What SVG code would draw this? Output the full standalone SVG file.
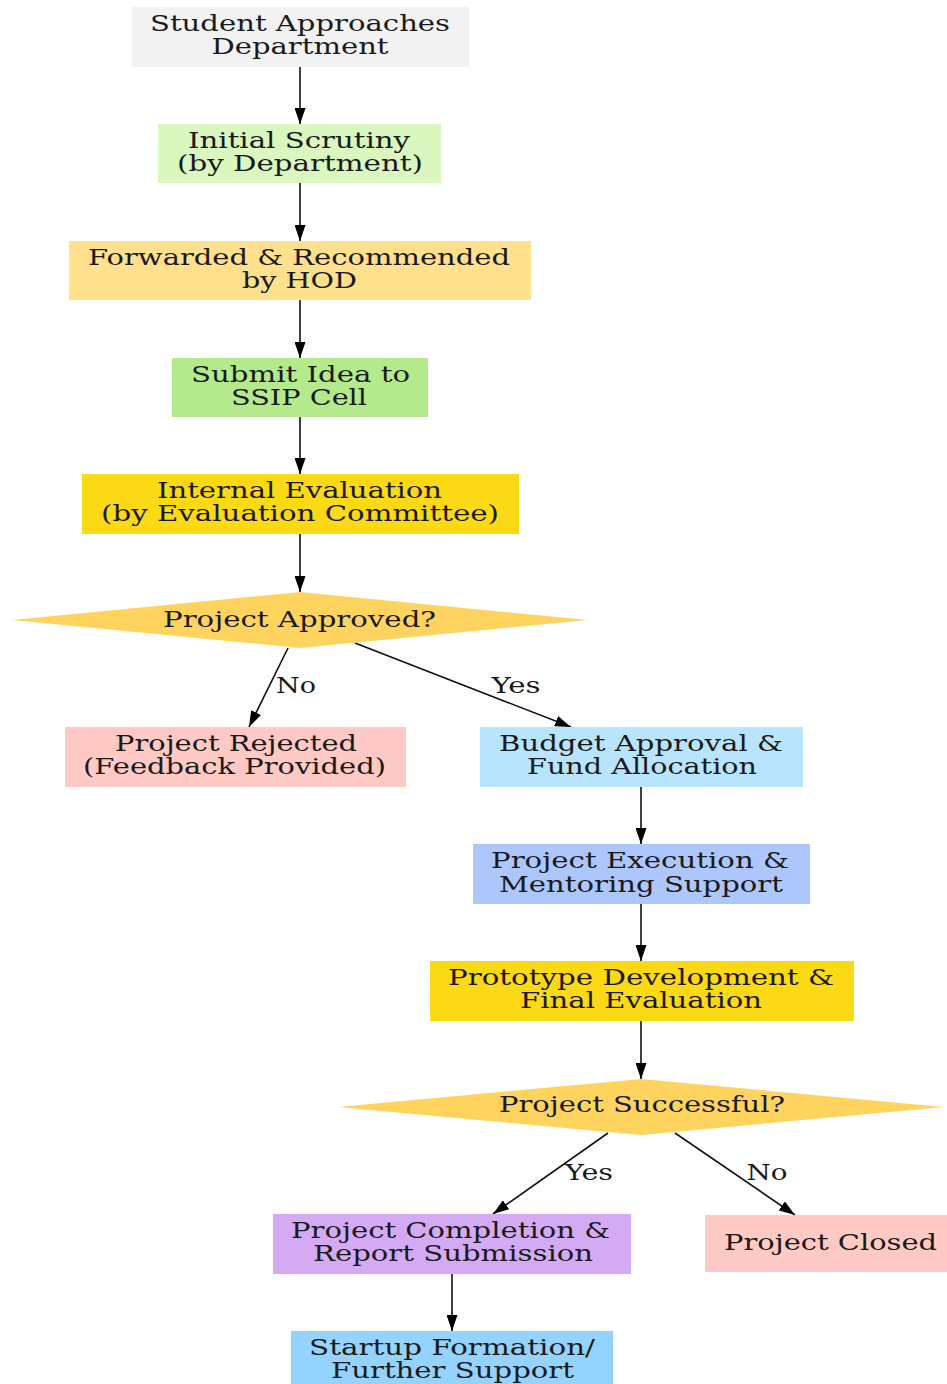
<svg xmlns="http://www.w3.org/2000/svg" width="947" height="1384" viewBox="0 0 947 1384">
<defs>
<style>
text{font-family:"DejaVu Serif","Liberation Serif",serif;font-size:23px;fill:#1a1a1a;text-anchor:middle}
.e{stroke:#111;stroke-width:1.6;fill:none;marker-end:url(#ah)}
</style>
<marker id="ah" viewBox="0 0 16 11" refX="16" refY="5.5" markerWidth="16" markerHeight="11" markerUnits="userSpaceOnUse" orient="auto">
<path d="M0,0L16,5.5L0,11z" fill="#000"/>
</marker>
</defs>
<rect width="947" height="1384" fill="#fff"/>
<g id="connectors">
<line class="e" x1="300" y1="67" x2="300" y2="124"/>
<line class="e" x1="300" y1="183" x2="300" y2="241"/>
<line class="e" x1="300" y1="300" x2="300" y2="358"/>
<line class="e" x1="300" y1="417" x2="300" y2="474"/>
<line class="e" x1="300" y1="534" x2="300" y2="592"/>
<line class="e" x1="288" y1="648" x2="249" y2="727"/>
<text x="296" y="693" textLength="40" lengthAdjust="spacingAndGlyphs">No</text>
<line class="e" x1="355" y1="643" x2="571" y2="727"/>
<text x="516" y="693" textLength="49" lengthAdjust="spacingAndGlyphs">Yes</text>
<line class="e" x1="641" y1="787" x2="641" y2="844"/>
<line class="e" x1="641" y1="904" x2="641" y2="961"/>
<line class="e" x1="641" y1="1021" x2="641" y2="1079"/>
<line class="e" x1="608" y1="1133" x2="493" y2="1214"/>
<text x="589" y="1180" textLength="48" lengthAdjust="spacingAndGlyphs">Yes</text>
<line class="e" x1="675" y1="1133" x2="795" y2="1215"/>
<text x="767" y="1180" textLength="41" lengthAdjust="spacingAndGlyphs">No</text>
<line class="e" x1="452" y1="1274" x2="452" y2="1331"/>
</g>
<g id="n1"><rect x="132" y="7" width="337" height="60" fill="#f2f2f2"/>
<text x="300" y="31" textLength="300" lengthAdjust="spacingAndGlyphs">Student Approaches</text>
<text x="300" y="54" textLength="177" lengthAdjust="spacingAndGlyphs">Department</text></g>
<g id="n2"><rect x="158" y="124" width="283" height="59" fill="#d9f7bf"/>
<text x="299" y="148" textLength="222" lengthAdjust="spacingAndGlyphs">Initial Scrutiny</text>
<text x="300" y="171" textLength="246" lengthAdjust="spacingAndGlyphs">(by Department)</text></g>
<g id="n3"><rect x="69" y="241" width="462" height="59" fill="#ffe08c"/>
<text x="299" y="265" textLength="422" lengthAdjust="spacingAndGlyphs">Forwarded &amp; Recommended</text>
<text x="299.5" y="288" textLength="115" lengthAdjust="spacingAndGlyphs">by HOD</text></g>
<g id="n4"><rect x="172" y="358" width="256" height="59" fill="#b5ea8c"/>
<text x="300.5" y="382" textLength="219" lengthAdjust="spacingAndGlyphs">Submit Idea to</text>
<text x="299" y="405" textLength="136" lengthAdjust="spacingAndGlyphs">SSIP Cell</text></g>
<g id="n5"><rect x="82" y="474" width="437" height="60" fill="#fbd914"/>
<text x="299.5" y="498" textLength="285" lengthAdjust="spacingAndGlyphs">Internal Evaluation</text>
<text x="300" y="521" textLength="398" lengthAdjust="spacingAndGlyphs">(by Evaluation Committee)</text></g>
<g id="n6"><polygon points="12,620 300,592 588,620 300,648" fill="#ffd45e"/>
<text x="299.5" y="627" textLength="273" lengthAdjust="spacingAndGlyphs">Project Approved?</text></g>
<g id="n7"><rect x="65" y="727" width="341" height="60" fill="#ffc9c5"/>
<text x="236" y="751" textLength="242" lengthAdjust="spacingAndGlyphs">Project Rejected</text>
<text x="234.5" y="774" textLength="303" lengthAdjust="spacingAndGlyphs">(Feedback Provided)</text></g>
<g id="n8"><rect x="480" y="727" width="323" height="60" fill="#b9e4fd"/>
<text x="641" y="751" textLength="284" lengthAdjust="spacingAndGlyphs">Budget Approval &amp;</text>
<text x="642" y="774" textLength="230" lengthAdjust="spacingAndGlyphs">Fund Allocation</text></g>
<g id="n9"><rect x="473" y="844" width="337" height="60" fill="#adc7fc"/>
<text x="640" y="868" textLength="298" lengthAdjust="spacingAndGlyphs">Project Execution &amp;</text>
<text x="641" y="892" textLength="284" lengthAdjust="spacingAndGlyphs">Mentoring Support</text></g>
<g id="n10"><rect x="430" y="961" width="424" height="60" fill="#fbd914"/>
<text x="641" y="985" textLength="386" lengthAdjust="spacingAndGlyphs">Prototype Development &amp;</text>
<text x="641" y="1008" textLength="242" lengthAdjust="spacingAndGlyphs">Final Evaluation</text></g>
<g id="n11"><polygon points="338,1107 641,1079 944,1107 641,1135" fill="#ffd45e"/>
<text x="642" y="1112" textLength="286" lengthAdjust="spacingAndGlyphs">Project Successful?</text></g>
<g id="n12"><rect x="273" y="1214" width="358" height="60" fill="#d4aaf5"/>
<text x="450.5" y="1238" textLength="319" lengthAdjust="spacingAndGlyphs">Project Completion &amp;</text>
<text x="453" y="1261" textLength="280" lengthAdjust="spacingAndGlyphs">Report Submission</text></g>
<g id="n13"><rect x="705" y="1215" width="242" height="57" fill="#ffc9c5"/>
<text x="830.5" y="1250" textLength="213" lengthAdjust="spacingAndGlyphs">Project Closed</text></g>
<g id="n14"><rect x="291" y="1331" width="322" height="53" fill="#93d3fd"/>
<text x="452" y="1355" textLength="286" lengthAdjust="spacingAndGlyphs">Startup Formation/</text>
<text x="452.5" y="1378" textLength="243" lengthAdjust="spacingAndGlyphs">Further Support</text></g>
</svg>
